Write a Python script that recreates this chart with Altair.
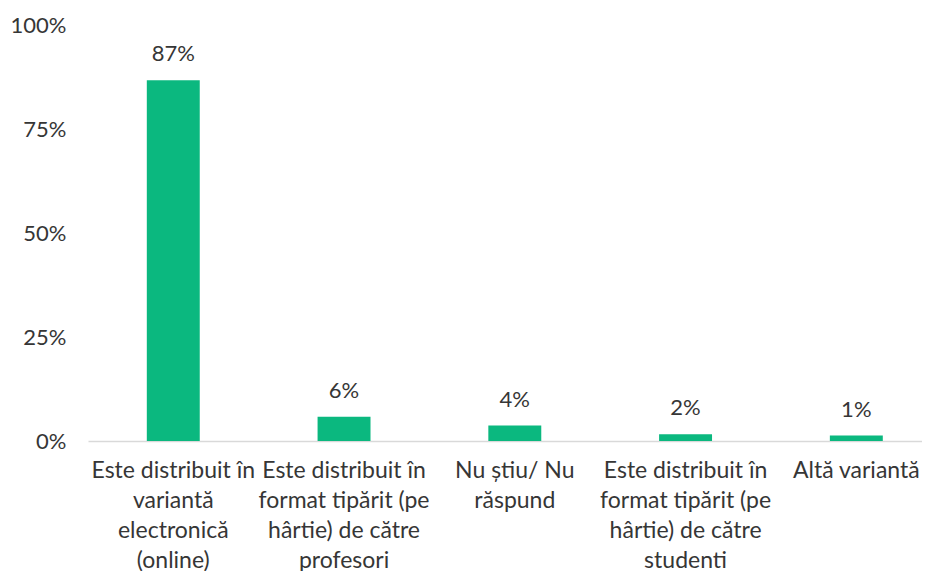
import altair as alt
import pandas as pd

categories = [
    "Este distribuit în\nvariantă\nelectronică\n(online)",
    "Este distribuit în\nformat tipărit (pe\nhârtie) de către\nprofesori",
    "Nu știu/ Nu\nrăspund",
    "Este distribuit în\nformat tipărit (pe\nhârtie) de către\nstudenti",
    "Altă variantă",
]
values = [0.867, 0.058, 0.037, 0.016, 0.013]
labels = ["87%", "6%", "4%", "2%", "1%"]

df = pd.DataFrame({"cat": categories, "val": values, "lab": labels})

FONT = "Lato"
TXT = "#363636"
FS = 22

x = alt.X("cat:N", sort=categories, title=None,
          scale=alt.Scale(paddingInner=0.69, paddingOuter=0.287, align=0.6),
          axis=alt.Axis(labelAngle=0, labelExpr="split(datum.label, '\\n')",
                        labelFont=FONT, labelFontSize=23, labelColor=TXT,
                        labelLineHeight=30, labelPadding=18, ticks=False,
                        domainColor="#d9d9d9", domainWidth=1.5, labelLimit=240))
y = alt.Y("val:Q", title=None,
          scale=alt.Scale(domain=[0, 1]),
          axis=alt.Axis(values=[0, 0.25, 0.5, 0.75, 1], format=".0%",
                        labelFont=FONT, labelFontSize=FS, labelColor=TXT,
                        grid=False, domain=False, ticks=False, labelPadding=22))

bars = alt.Chart(df).mark_bar(color="#0BB87F").encode(x=x, y=y)
text = alt.Chart(df).mark_text(dy=-26, font=FONT, fontSize=FS, color=TXT).encode(
    x=alt.X("cat:N", sort=categories), y="val:Q", text="lab:N")

chart = (bars + text).properties(
    width=834, height=416,
    autosize=alt.AutoSizeParams(type="none"),
    padding={"left": 80, "top": 17, "right": 0, "bottom": 130},
).configure_view(stroke=None)

chart.save("out.html", embed_options={"renderer": "svg", "actions": False})
